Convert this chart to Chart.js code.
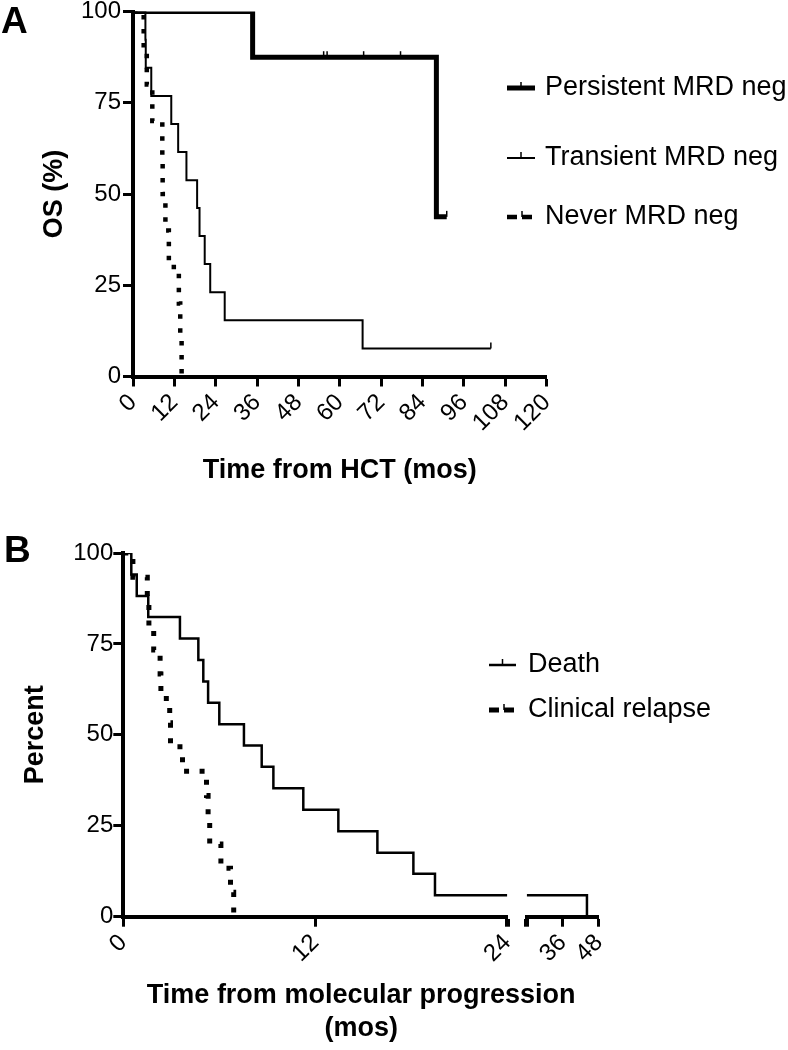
<!DOCTYPE html>
<html>
<head>
<meta charset="utf-8">
<script src="https://cdn.jsdelivr.net/npm/chart.js"></script>
<style>
    html, body { margin: 0; padding: 0; background: #fff; }
    #wrap { position: relative; width: 788px; height: 1050px; overflow: hidden; }
    canvas { position: absolute; left: 0; }
    #panel-a { top: 0; }
    #panel-b { top: 510px; }
</style>
</head>
<body>
<div id="wrap">
    <canvas id="panel-a" width="788" height="510" style="width:788px;height:510px"></canvas>
    <canvas id="panel-b" width="788" height="540" style="width:788px;height:540px"></canvas>
</div>
<script>
// Panel A - overall survival from HCT by MRD status (months, %)
const persistentTimes = [0, 34.7, 88.0, 91.0];
const persistentOS = [100, 87.5, 43.75, 43.75];
const persistentCensorTimes = [55.3, 56.3, 66.9, 77.6, 91.0];
const persistentCensorOS = [87.5, 87.5, 87.5, 87.5, 43.75];

const transientTimes = [0, 3.6, 3.7, 5.3, 11.1, 13.1, 15.5, 18.6, 19.3, 20.8, 22.4, 26.6, 66.6, 103.8];
const transientOS = [100, 92.3, 84.6, 76.9, 69.2, 61.5, 53.8, 46.2, 38.5, 30.8, 23.1, 15.4, 7.7, 7.7];
const transientCensorTimes = [103.8];
const transientCensorOS = [7.7];

const neverTimes = [0, 3.1, 4.0, 5.6, 8.5, 8.6, 9.4, 10.4, 13.3, 13.7, 14.1];
const neverOS = [100, 90, 80, 70, 60, 50, 40, 30, 20, 10, 0];

const timeTicksA = [0, 12, 24, 36, 48, 60, 72, 84, 96, 108, 120];
const percentTicks = [0, 25, 50, 75, 100];

// Panel B - time from molecular progression (months, %), axis broken at 24
const deathTimes = [0, 0.5, 0.84, 1.56, 3.54, 4.69, 5.0, 5.3, 6.0, 7.54, 8.65, 9.38, 11.25, 13.44, 15.88, 18.13, 19.48, 44.0];
const deathPercent = [100, 94.1, 88.2, 82.4, 76.5, 70.6, 64.7, 58.8, 52.9, 47.1, 41.2, 35.3, 29.4, 23.5, 17.6, 11.8, 5.9, 0];

const relapseTimes = [0, 0.6, 1.5, 1.6, 1.9, 2.3, 2.35, 2.9, 2.95, 3.7, 5.2, 5.3, 5.4, 6.1, 6.7, 6.9];
const relapsePercent = [100, 93.3, 86.7, 80, 73.3, 66.7, 60, 53.3, 46.7, 40, 33.3, 26.7, 20, 13.3, 6.7, 0];

const timeTicksB = [0, 12, 24];
const timeTicksBLate = [24, 36, 48];
const axisBreak = 24;

Chart.defaults.font.family = '"Liberation Sans", Arial, Helvetica, sans-serif';
Chart.defaults.color = '#000';

function toPoints(times, values) {
    return times.map((t, i) => ({ x: t, y: values[i] }));
}

function splitAtBreak(times, values, breakAt) {
    let before = [], after = [];
    let level = values[0];
    times.forEach((t, i) => {
        if (t <= breakAt) {
            before.push({ x: t, y: values[i] });
            level = values[i];
        } else {
            after.push({ x: t, y: values[i] });
        }
    });
    before.push({ x: breakAt, y: level });
    after.unshift({ x: breakAt, y: level });
    return [before, after];
}

function kmLine(label, data, width, dash, xAxisID) {
    return {
        label: label,
        data: data,
        xAxisID: xAxisID || 'x',
        stepped: 'before',
        borderColor: '#000',
        borderWidth: width,
        borderDash: dash,
        borderCapStyle: 'butt',
        borderJoinStyle: 'miter',
        pointRadius: 0,
        fill: false
    };
}

function tickFont(extra) {
    return Object.assign({
        font: { size: 24 }, padding: 2, minRotation: 45, maxRotation: 45,
        autoSkip: false, color: '#000'
    }, extra);
}

function timeAxis(min, max, ticks, extra) {
    return Object.assign({
        type: 'linear',
        min: min,
        max: max,
        afterBuildTicks: scale => { scale.ticks = ticks.map(v => ({ value: v })); },
        border: { color: '#000', width: 4 },
        grid: { drawOnChartArea: false, tickLength: 10, tickWidth: 3, tickColor: '#000' },
        ticks: tickFont()
    }, extra);
}

function percentAxis(title, width, pad) {
    return {
        type: 'linear',
        min: 0,
        max: 100,
        afterBuildTicks: scale => { scale.ticks = percentTicks.map(v => ({ value: v })); },
        afterFit: scale => { scale.width = width; },
        border: { color: '#000', width: 4 },
        grid: { drawOnChartArea: false, tickLength: 10, tickWidth: 3, tickColor: '#000' },
        ticks: { font: { size: 24, lineHeight: 0.8 }, padding: pad, color: '#000', autoSkip: false },
        title: {
            display: true, text: title, color: '#000', padding: 0,
            font: { size: 27, weight: 'bold', lineHeight: 1.2 }
        }
    };
}

function bottomTitle(text) {
    return {
        display: true, position: 'bottom', fullSize: false, text: text, color: '#000', padding: 0,
        font: { size: 27, weight: 'bold', lineHeight: 1.2 }
    };
}

// small upward ticks for censored patients
function censorMarks(sets) {
    return {
        id: 'censorMarks',
        afterDatasetsDraw(chart) {
            const ctx = chart.ctx;
            ctx.save();
            ctx.strokeStyle = '#000';
            sets.forEach(set => {
                const xs = chart.scales[set.axis || 'x'];
                const ys = chart.scales.y;
                ctx.lineWidth = set.width;
                set.times.forEach((t, i) => {
                    const px = xs.getPixelForValue(t);
                    const py = ys.getPixelForValue(set.values[i]);
                    ctx.beginPath();
                    ctx.moveTo(px, py);
                    ctx.lineTo(px, py - set.size);
                    ctx.stroke();
                });
            });
            ctx.restore();
        }
    };
}

// panel letter + legend (symbols follow the datasets)
function panelDecor(letter, letterPos, legend) {
    return {
        id: 'panelDecor',
        afterDraw(chart) {
            const ctx = chart.ctx;
            ctx.save();
            ctx.fillStyle = '#000';
            ctx.strokeStyle = '#000';
            ctx.font = 'bold 37px "Liberation Sans", Arial, sans-serif';
            ctx.textBaseline = 'alphabetic';
            ctx.fillText(letter, letterPos[0], letterPos[1]);

            ctx.font = '27px "Liberation Sans", Arial, sans-serif';
            ctx.textBaseline = 'middle';
            const items = chart.data.datasets.filter(d => d.label);
            items.forEach((d, i) => {
                const y = legend.ys[i];
                const dotted = d.borderDash && d.borderDash.length;
                ctx.lineWidth = d.borderWidth;
                ctx.lineCap = 'butt';
                ctx.setLineDash(dotted ? [10, 5] : []);
                ctx.beginPath();
                ctx.moveTo(legend.x0, y);
                ctx.lineTo(legend.x1, y);
                ctx.stroke();
                ctx.setLineDash([]);
                ctx.lineWidth = 1.5;
                const tx = dotted ? legend.x0 + 15 : (legend.x0 + legend.x1) / 2;
                ctx.beginPath();
                ctx.moveTo(tx, y);
                ctx.lineTo(tx, y - 6);
                ctx.stroke();
                ctx.fillText(d.label, legend.textX, y);
            });
            ctx.restore();
        }
    };
}

function renderPanelA() {
    new Chart(document.getElementById('panel-a'), {
        type: 'line',
        data: {
            datasets: [
                kmLine('Persistent MRD neg', toPoints(persistentTimes, persistentOS), 5, []),
                kmLine('Transient MRD neg', toPoints(transientTimes, transientOS), 2, []),
                kmLine('Never MRD neg', toPoints(neverTimes, neverOS), 4.5, [4.5, 9.5])
            ]
        },
        options: {
            responsive: false,
            animation: false,
            layout: { padding: { top: 10.5, left: 38, right: 241.3, bottom: 22.8 } },
            scales: {
                x: timeAxis(0, 120, timeTicksA, { afterFit: s => { s.height = 78.3; } }),
                y: percentAxis('OS (%)', 95, 2)
            },
            plugins: {
                legend: { display: false },
                tooltip: { enabled: false },
                title: bottomTitle('Time from HCT (mos)')
            }
        },
        plugins: [
            censorMarks([
                { times: persistentCensorTimes, values: persistentCensorOS, width: 1.5, size: 6 },
                { times: transientCensorTimes, values: transientCensorOS, width: 1.5, size: 6 }
            ]),
            panelDecor('A', [1, 33], { x0: 507, x1: 535, textX: 545, ys: [88, 158, 217] })
        ]
    });
}

function renderPanelB() {
    let deathParts = splitAtBreak(deathTimes, deathPercent, axisBreak);
    let capWidth = ctx => (ctx.tick && ctx.tick.value === axisBreak ? 5 : 3);
    new Chart(document.getElementById('panel-b'), {
        type: 'line',
        data: {
            datasets: [
                kmLine('Death', deathParts[0], 2.5, []),
                kmLine('Clinical relapse', toPoints(relapseTimes, relapsePercent), 5, [5, 10.5]),
                kmLine('', deathParts[1], 2.5, [], 'x2')
            ]
        },
        options: {
            responsive: false,
            animation: false,
            layout: { padding: { top: 43, left: 19.8, right: 189, bottom: 5.4 } },
            scales: {
                x: timeAxis(0, axisBreak, timeTicksB, {
                    stack: 'time', stackWeight: 384,
                    afterFit: s => { s.height = 63.1; },
                    grid: { drawOnChartArea: false, tickLength: 10, tickWidth: capWidth, tickColor: '#000' }
                }),
                xgap: {
                    type: 'linear', min: 0, max: 1, display: true,
                    stack: 'time', stackWeight: 19.4,
                    border: { display: false }, grid: { display: false }, ticks: { display: false }
                },
                x2: timeAxis(axisBreak, 48, timeTicksBLate, {
                    stack: 'time', stackWeight: 72.3,
                    afterFit: s => { s.height = 63.1; },
                    grid: { drawOnChartArea: false, tickLength: 10, tickWidth: capWidth, tickColor: '#000' },
                    ticks: tickFont({ callback: v => (v === axisBreak ? '' : v) })
                }),
                y: percentAxis('Percent', 103.5, 0)
            },
            plugins: {
                legend: { display: false },
                tooltip: { enabled: false },
                title: bottomTitle(['Time from molecular progression', '(mos)'])
            }
        },
        plugins: [
            panelDecor('B', [4, 51.7], { x0: 489, x1: 516, textX: 528, ys: [155, 200] })
        ]
    });
}

window.onload = function () {
    renderPanelA();
    renderPanelB();
};
</script>
</body>
</html>
